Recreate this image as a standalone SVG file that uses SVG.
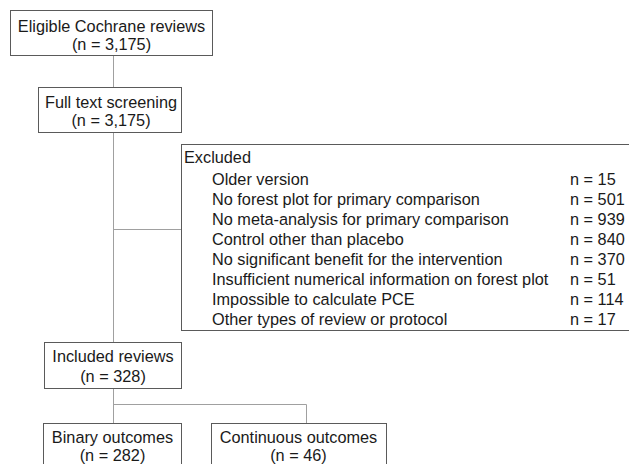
<svg xmlns="http://www.w3.org/2000/svg" width="629" height="464" viewBox="0 0 629 464">
  <style>
    .box { fill: #ffffff; stroke: #5a5a5a; stroke-width: 1; }
    .conn { fill: none; stroke: #a0a0a0; stroke-width: 1; }
    text { font-family: "Liberation Sans", Arial, sans-serif; font-size: 16.3px; fill: #1a1a1a; }
    .c { text-anchor: middle; }
  </style>
  <rect width="629" height="464" fill="#ffffff"/>
  <g id="connectors">
    <line class="conn" x1="113.5" y1="55" x2="113.5" y2="87"/>
    <line class="conn" x1="113.5" y1="133" x2="113.5" y2="342"/>
    <line class="conn" x1="113.5" y1="229.5" x2="182" y2="229.5"/>
    <line class="conn" x1="113.5" y1="388" x2="113.5" y2="423"/>
    <polyline class="conn" points="113.5,404.5 306.5,404.5 306.5,423"/>
  </g>
  <g id="eligible">
    <rect class="box" x="10.5" y="10.5" width="202" height="45"/>
    <text class="c" x="111.5" y="32">Eligible Cochrane reviews</text>
    <text class="c" x="111.5" y="49.5">(n = 3,175)</text>
  </g>
  <g id="screening">
    <rect class="box" x="38.5" y="87.5" width="143" height="45"/>
    <text class="c" x="111" y="108">Full text screening</text>
    <text class="c" x="111" y="126">(n = 3,175)</text>
  </g>
  <g id="excluded">
    <rect class="box" x="181.5" y="144.5" width="460" height="186"/>
    <text x="184" y="163">Excluded</text>
    <text x="212" y="185">Older version</text>
    <text x="212" y="205">No forest plot for primary comparison</text>
    <text x="212" y="225">No meta-analysis for primary comparison</text>
    <text x="212" y="245">Control other than placebo</text>
    <text x="212" y="265">No significant benefit for the intervention</text>
    <text x="212" y="285">Insufficient numerical information on forest plot</text>
    <text x="212" y="304.5">Impossible to calculate PCE</text>
    <text x="212" y="324.5">Other types of review or protocol</text>
    <text x="570" y="185">n = 15</text>
    <text x="570" y="205">n = 501</text>
    <text x="570" y="225">n = 939</text>
    <text x="570" y="245">n = 840</text>
    <text x="570" y="265">n = 370</text>
    <text x="570" y="285">n = 51</text>
    <text x="570" y="304.5">n = 114</text>
    <text x="570" y="324.5">n = 17</text>
  </g>
  <g id="included">
    <rect class="box" x="44.5" y="342.5" width="137" height="46"/>
    <text class="c" x="113" y="362">Included reviews</text>
    <text class="c" x="113" y="381.5">(n = 328)</text>
  </g>
  <g id="binary">
    <rect class="box" x="43.5" y="423.5" width="138" height="46"/>
    <text class="c" x="112.5" y="442.5">Binary outcomes</text>
    <text class="c" x="112.5" y="461">(n = 282)</text>
  </g>
  <g id="continuous">
    <rect class="box" x="211.5" y="423.5" width="175" height="46"/>
    <text class="c" x="298.5" y="442.5">Continuous outcomes</text>
    <text class="c" x="298.5" y="461">(n = 46)</text>
  </g>
</svg>
